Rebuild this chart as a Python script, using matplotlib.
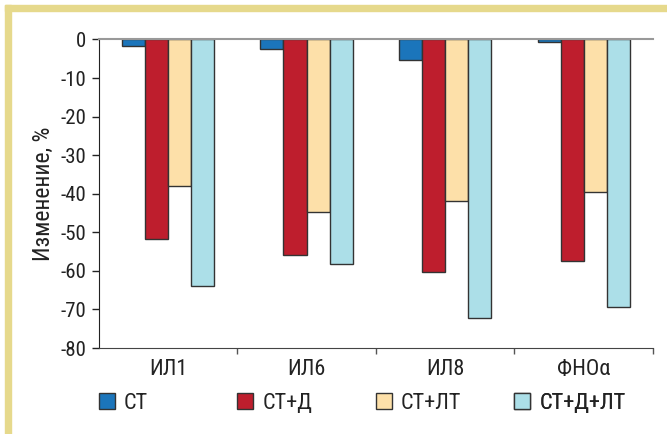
import matplotlib
matplotlib.use('Agg')
import matplotlib.pyplot as plt
from matplotlib import font_manager
from matplotlib.patches import Rectangle
import numpy as np

# data
categories = ['ИЛ1', 'ИЛ6', 'ИЛ8', 'ФНОα']
series_names = ['СТ', 'СТ+Д', 'СТ+ЛТ', 'СТ+Д+ЛТ']
st = [-1.8, -2.4, -5.2, -0.7]
st_d = [-51.7, -55.8, -60.2, -57.3]
st_lt = [-38.0, -44.6, -42.0, -39.6]
st_d_lt = [-64.0, -58.2, -72.3, -69.3]
y_ticks = [0, -10, -20, -30, -40, -50, -60, -70, -80]

colors = ['#1b75bb', '#be1e2d', '#fde0a9', '#acdfe8']

# pick a narrow font if there is one
names = {f.name for f in font_manager.fontManager.ttflist}
fam = []
for n in ['Liberation Sans Narrow', 'Roboto Condensed', 'Roboto']:
    if n in names:
        fam.append(n)
fam.append('DejaVu Sans')
plt.rcParams['font.family'] = fam

fig = plt.figure(figsize=(6.67, 4.34), dpi=100)
ax = fig.add_axes([0.148, 0.198, 0.831, 0.711])

x = np.arange(len(categories))
w = 1 / 6
all_series = [st, st_d, st_lt, st_d_lt]
bars = []
for i, vals in enumerate(all_series):
    b = ax.bar(x + (i - 1.5) * w, vals, w, color=colors[i], edgecolor='#333333',
               linewidth=1.0, label=series_names[i], zorder=2)
    bars.append(b)

ax.set_xlim(-0.5, len(categories) - 0.5)
ax.set_ylim(-80, 0)
ax.set_yticks(y_ticks)
ax.set_yticklabels([str(v) for v in y_ticks], fontsize=15, color='#222222')
ax.set_xticks(x)
ax.set_xticklabels(categories, fontsize=16, color='#222222')
ax.tick_params(axis='x', length=0, pad=8)
ax.tick_params(axis='y', length=5, width=1, color='#222222', pad=4)
# category separators on the bottom axis
ax.set_xticks(np.arange(len(categories)) + 0.5, minor=True)
ax.tick_params(axis='x', which='minor', length=4, width=1, color='#555555')

ax.spines['right'].set_visible(False)
ax.spines['top'].set_color('#999999')
ax.spines['top'].set_linewidth(1.5)
ax.spines['top'].set_zorder(3)
ax.spines['left'].set_color('#222222')
ax.spines['bottom'].set_color('#444444')

ax.set_ylabel('Изменение, %', fontsize=17, color='#222222', labelpad=4)

# one legend entry per category slot, each starting at a slot boundary
for i in range(len(series_names)):
    leg = ax.legend([bars[i]], [series_names[i]], loc='center left',
                    bbox_to_anchor=(i / len(series_names), -0.18), frameon=False,
                    fontsize=16, handlelength=0.72, handleheight=0.72,
                    handletextpad=0.4, borderaxespad=0, borderpad=0,
                    labelcolor='#222222')
    ax.add_artist(leg)

# yellow frame on top and left
fig.patches.append(Rectangle((5 / 667, 0), 5.5 / 667, 1 - 5 / 434, transform=fig.transFigure,
                             color='#e6d98c', zorder=0))
fig.patches.append(Rectangle((5 / 667, 1 - 10.5 / 434), 1, 5.5 / 434, transform=fig.transFigure,
                             color='#e6d98c', zorder=0))

fig.savefig('out.png', dpi=100)
